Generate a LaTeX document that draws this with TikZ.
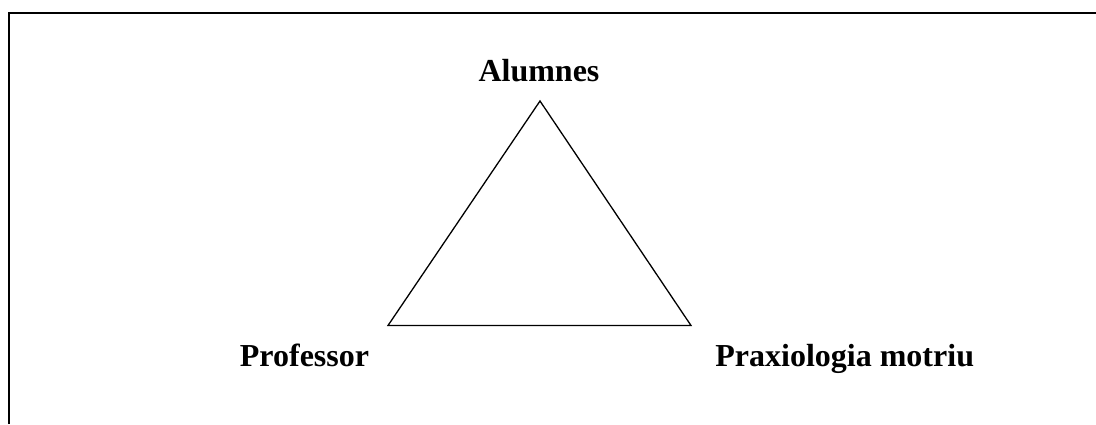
\documentclass[tikz,border=0pt]{standalone}
\usepackage{fontspec}
\setmainfont{Liberation Serif}
\begin{document}
\begin{tikzpicture}[x=1pt,y=-1pt,
  lbl/.style={anchor=base,inner sep=0pt,font=\fontsize{32}{38}\selectfont\bfseries},
  side/.style={draw=black,line width=1.3pt,line join=miter},
  frame/.style={draw=black,line width=2.4pt}]
\useasboundingbox (0,0) rectangle (1096,424);
\draw[frame] (9,424) -- (9,13) -- (1096,13);
\coordinate (top) at (540,101);
\coordinate (bl) at (388,325.5);
\coordinate (br) at (691,325.5);
\draw[side] (top) -- (bl) -- (br) -- cycle;
\node[lbl] (alumnes) at (539,81.7) {Alumnes};
\node[lbl] (prof) at (304.5,366.7) {Professor};
\node[lbl] (prax) at (844.7,366.7) {Praxiologia motriu};
\end{tikzpicture}
\end{document}
